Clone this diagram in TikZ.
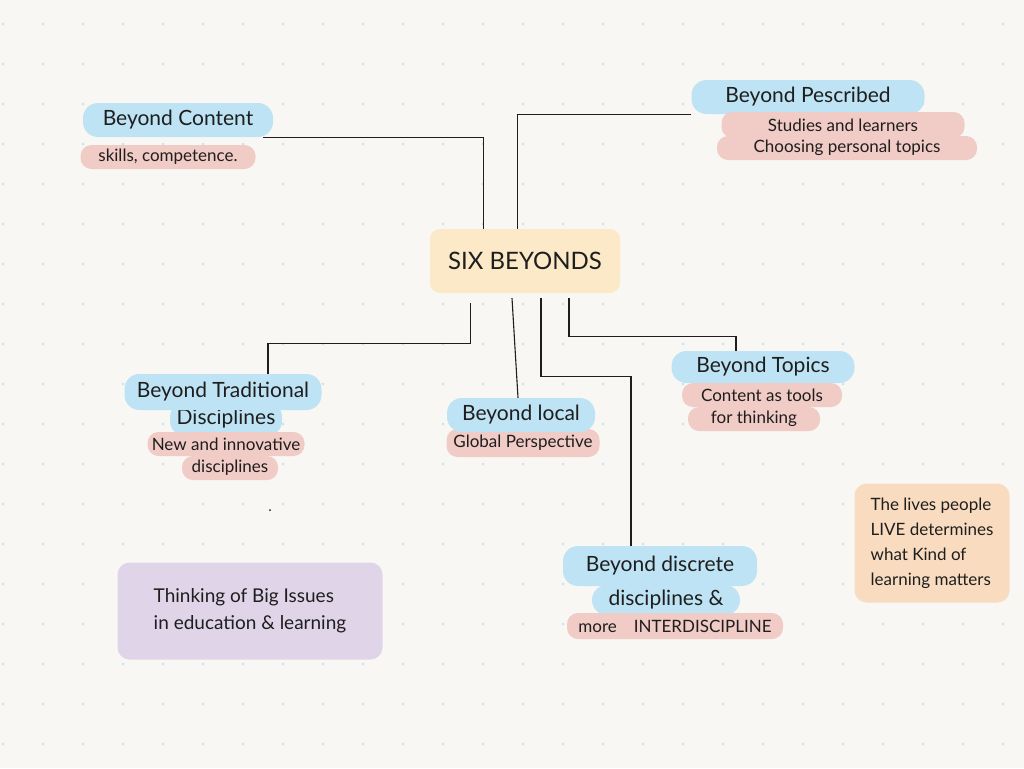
\documentclass[tikz,border=0pt]{standalone}
\usepackage{fontspec}
\setmainfont{Lato}
\usetikzlibrary{arrows.meta,calc,positioning}
\definecolor{paper}{HTML}{F8F7F3}
\definecolor{gridblue}{HTML}{C3E2F2}
\definecolor{markblue}{HTML}{BEE3F4}
\definecolor{markpink}{HTML}{F1CBC5}
\definecolor{markyellow}{HTML}{FBE9C8}
\definecolor{markorange}{HTML}{F9DCC0}
\definecolor{markpurple}{HTML}{E0D4E8}
\definecolor{ink}{HTML}{1E1E1E}
\tikzset {
  >=Stealth,
  every node/.style={text=ink, inner sep=0pt},
  blueline/.style={fill=markblue, rounded corners=15pt, minimum height=34pt,
    font=\fontsize{21}{24}\selectfont},
  pinkline/.style={fill=markpink, rounded corners=11pt, minimum height=24pt,
    font=\fontsize{17}{20}\selectfont},
  notebox/.style={rounded corners=12pt, align=left,
    font=\fontsize{17}{25}\selectfont},
  branch/.style={draw=ink, line width=1.1pt},
}

\begin{document}
\begin{tikzpicture}[x=1pt,y=-1pt]
  \fill[paper] (0,0) rectangle (1024,768);
  \useasboundingbox (0,0) rectangle (1024,768);
  \foreach \gx in {3,43,...,1023}
    \foreach \gy in {24,64,...,744}
      \fill[gridblue] (\gx,\gy) circle[radius=1.3pt];

  \node (six) at (525,261) [fill=markyellow, rounded corners=10pt,
    minimum width=190pt, minimum height=64pt,
    font=\fontsize{24}{28}\selectfont] {SIX BEYONDS};

  \node (content) at (178,120) [blueline, minimum width=190pt] {Beyond Content};
  \node (skills) at (168,157) [pinkline, minimum width=175pt] {skills, competence.};

  \node (prescribed) at (808,97) [blueline, minimum width=233pt] {Beyond Pescribed};
  \node (studies) at (843,125) [pinkline, minimum width=243pt, minimum height=26pt] {Studies and learners};
  \node (choosing) at (847,148) [pinkline, minimum width=260pt] {Choosing personal topics};

  \node (tradb) at (226,419) [blueline, minimum width=112pt] {Disciplines};
  \node (trad) at (223,392) [blueline, minimum width=197pt, minimum height=36pt] {Beyond Traditional};
  \node (tradsub) at (226,444) [pinkline, minimum width=157pt] {New and innovative};
  \node (tradsubb) at (230,468) [pinkline, minimum width=96pt] {disciplines};

  \node (localsub) at (523,443) [pinkline, minimum width=153pt, minimum height=28pt] {Global Perspective};
  \node (local) at (521,415) [blueline, minimum width=148pt] {Beyond local};

  \node (topics) at (763,367) [blueline, minimum width=183pt, minimum height=32pt] {Beyond Topics};
  \node (tools) at (762,395) [pinkline, minimum width=160pt] {Content as tools};
  \node (thinking) at (754,419) [pinkline, minimum width=132pt] {for thinking};

  \node (discreteb) at (666,600) [blueline, minimum width=148pt, minimum height=30pt] {disciplines \&};
  \node (discrete) at (660,566) [blueline, minimum width=194pt, minimum height=40pt] {Beyond discrete};
  \node (inter) at (675,626) [pinkline, minimum width=216pt, minimum height=26pt] {more\quad INTERDISCIPLINE};

  \node (lives) at (932,543) [notebox, fill=markorange, minimum width=155pt,
    minimum height=119pt] {The lives people\\LIVE determines\\what Kind of\\learning matters};
  \node (issues) at (250,611) [notebox, fill=markpurple, minimum width=265pt,
    minimum height=97pt, font=\fontsize{19}{27}\selectfont] {Thinking of Big Issues\\in education \& learning};

  \draw[branch] ($(content.south east)+(-10,0)$) -| ($(six.north west)+(54,0)$);
  \draw[branch] (prescribed.south west) -| ($(six.north west)+(88,0)$);
  \draw[branch] ($(six.south west)+(41,10)$) -- ++(0,40) -| ($(trad.north)+(45,0)$);
  \draw[branch] ($(six.south)+(-13,5)$) -- ($(local.north)+(-3,0)$);
  \draw[branch] ($(six.south)+(16,5)$) -- ++(0,78) -| ($(discrete.north)+(-29,0)$);
  \draw[branch] ($(six.south)+(44,5)$) -- ++(0,38) -| ($(topics.north)+(-27,0)$);
  \fill[ink] (270,510) circle[radius=1pt];
\end{tikzpicture}
\end{document}
